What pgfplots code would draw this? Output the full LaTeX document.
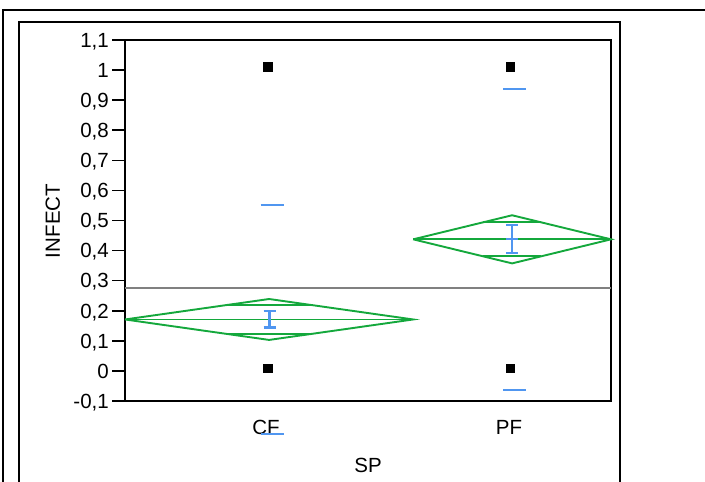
\documentclass[border=0pt]{standalone}
\usepackage{fontspec}
\setmainfont{Liberation Sans}
\usepackage{pgfplots}
\pgfplotsset{compat=1.18}
\definecolor{dgreen}{RGB}{20,168,60}
\definecolor{eblue}{RGB}{80,150,240}
\definecolor{gmean}{RGB}{128,128,128}
\newcommand\fs{\fontsize{20.5bp}{24bp}\selectfont}
\begin{document}
\begin{tikzpicture}[x=1bp,y=1bp]
\useasboundingbox (-125,-81) rectangle (580,401);
\draw[line width=1.6bp] (-122,-81) -- (-122,391) -- (580,391);
\draw[line width=1.6bp] (-106,-81) -- (-106,379) -- (495,379) -- (495,-81);
\begin{axis}[
  at={(0,0)}, anchor=south west,
  scale only axis, width=486bp, height=361bp,
  xmin=0, xmax=1, ymin=-0.1, ymax=1.1,
  clip=false,
  axis line style={line width=1.8bp},
  tick align=outside,
  major tick length=13bp,
  ytick pos=left, xtick pos=bottom,
  ytick={-0.1,0,0.1,0.2,0.3,0.4,0.5,0.6,0.7,0.8,0.9,1,1.1},
  yticklabels={{-0,1},{0},{0,1},{0,2},{0,3},{0,4},{0,5},{0,6},{0,7},{0,8},{0,9},{1},{1,1}},
  ytick style={line width=1.6bp, black},
  yticklabel style={font=\fs, anchor=east, text height=14.6bp, text depth=0bp, inner sep=0pt, xshift=-3bp},
  xtick={0.29,0.79},
  xticklabels={CF,PF},
  xtick style={draw=none},
  xticklabel style={font=\fs, anchor=base, inner sep=0pt, yshift=-21bp},
  extra x ticks={0.5926},
  extra x tick labels={},
  extra x tick style={major tick length=9bp, tick style={line width=1.4bp, black, draw=black}},
]
% grand mean
\addplot[gmean, line width=2.2bp] coordinates {(0,0.2765) (1,0.2765)};
% CF diamond
\addplot[dgreen, line width=1.9bp] coordinates {(0,0.171) (0.2965,0.239) (0.593,0.171) (0.2965,0.103) (0,0.171)};
\addplot[dgreen, line width=1.9bp] coordinates {(0,0.171) (0.593,0.171)};
\addplot[dgreen, line width=1.9bp] coordinates {(0.2096,0.219) (0.3834,0.219)};
\addplot[dgreen, line width=1.9bp] coordinates {(0.2096,0.123) (0.3834,0.123)};
% PF diamond
\addplot[dgreen, line width=1.9bp] coordinates {(0.593,0.4374) (0.7965,0.5174) (1,0.4374) (0.7965,0.3574) (0.593,0.4374)};
\addplot[dgreen, line width=1.9bp] coordinates {(0.593,0.4374) (1,0.4374)};
\addplot[dgreen, line width=1.9bp] coordinates {(0.7369,0.494) (0.8561,0.494)};
\addplot[dgreen, line width=1.9bp] coordinates {(0.7369,0.3808) (0.8561,0.3808)};
% error bars (std error)
\addplot[eblue, line width=2.2bp] coordinates {(0.2975,0.1445) (0.2975,0.1985)};
\addplot[eblue, line width=2.2bp] coordinates {(0.2852,0.1985) (0.3098,0.1985)};
\addplot[eblue, line width=2.2bp] coordinates {(0.2852,0.1445) (0.3098,0.1445)};
\addplot[eblue, line width=2.2bp] coordinates {(0.797,0.392) (0.797,0.485)};
\addplot[eblue, line width=2.2bp] coordinates {(0.7847,0.485) (0.8093,0.485)};
\addplot[eblue, line width=2.2bp] coordinates {(0.7847,0.392) (0.8093,0.392)};
\addplot[eblue, line width=2.2bp] coordinates {(0.7847,0.4374) (0.8093,0.4374)};
% std dev marks
\addplot[eblue, line width=2.2bp] coordinates {(0.2792,0.5515) (0.3265,0.5515)};
\addplot[eblue, line width=2.2bp] coordinates {(0.2792,-0.2098) (0.3265,-0.2098)};
\addplot[eblue, line width=2.2bp] coordinates {(0.778,0.937) (0.826,0.937)};
\addplot[eblue, line width=2.2bp] coordinates {(0.778,-0.0636) (0.826,-0.0636)};
% data points
\addplot[only marks, mark=square*, mark size=4.2bp, black] coordinates {(0.2938,1.011) (0.2938,0.0086) (0.792,1.011) (0.792,0.0086)};
\end{axis}
\node[rotate=90, anchor=base, font=\fs] at (-65,180) {INFECT};
\node[anchor=base, font=\fs] at (243,-72) {SP};
\end{tikzpicture}
\end{document}
